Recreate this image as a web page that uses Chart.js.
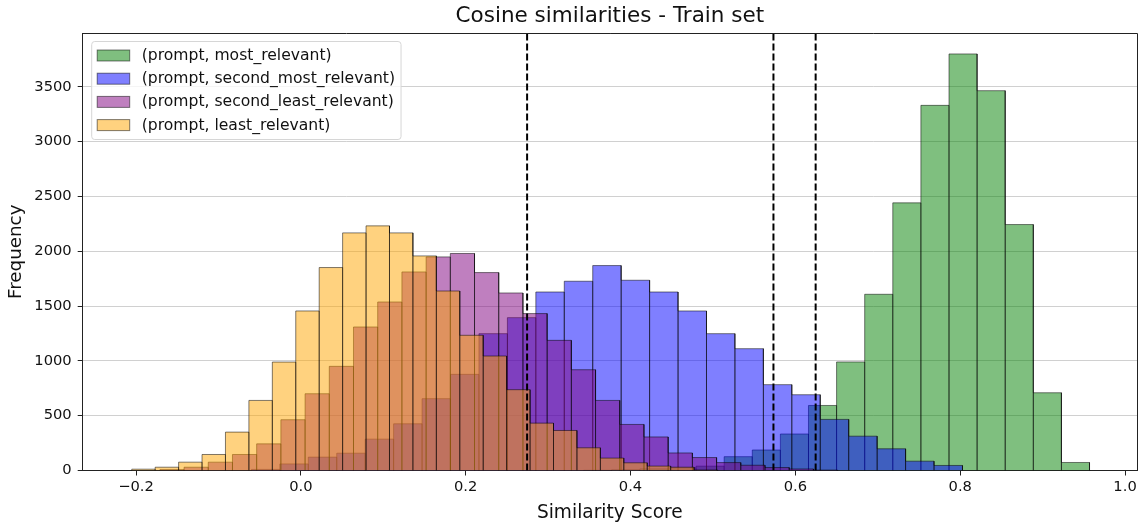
<!DOCTYPE html>
<html>
<head>
<meta charset="utf-8">
<script src="https://cdn.jsdelivr.net/npm/chart.js@4.4.1/dist/chart.umd.min.js"></script>
<style>
html, body { margin: 0; padding: 0; background: #fff; }
#wrap { width: 1141px; height: 525px; }
</style>
</head>
<body>
<div id="wrap"><canvas id="histChart" width="1141" height="525"></canvas></div>
<script>
// labels of the four histograms
const seriesLabels = [
    '(prompt, most_relevant)',
    '(prompt, second_most_relevant)',
    '(prompt, second_least_relevant)',
    '(prompt, least_relevant)'
];

// each histogram: first bin edge, bin width, counts per bin
const mostRelevantStart = 0.3431;
const mostRelevantWidth = 0.0341;
const mostRelevantCounts = [3, 8, 15, 25, 40, 126, 187, 333, 593, 990, 1607, 2441, 3330, 3799, 3464, 2243, 709, 73];

const secondMostStart = -0.0600;
const secondMostWidth = 0.03451;
const secondMostCounts = [10, 60, 122, 158, 286, 426, 655, 877, 1248, 1394, 1628, 1726, 1869, 1735, 1628, 1455, 1248, 1111, 783, 691, 466, 313, 198, 85, 46];

const secondLeastStart = -0.1711;
const secondLeastWidth = 0.02937;
const secondLeastCounts = [8, 30, 76, 146, 243, 463, 700, 950, 1309, 1537, 1811, 1948, 1979, 1805, 1619, 1431, 1187, 919, 639, 420, 306, 160, 118, 72, 48, 27, 14, 4];

const leastStart = -0.2052;
const leastWidth = 0.02843;
const leastCounts = [12, 30, 76, 146, 350, 639, 989, 1455, 1851, 2167, 2231, 2167, 1957, 1637, 1233, 1044, 737, 432, 365, 207, 113, 70, 40, 30, 5];

// dashed vertical threshold lines
const thresholds = [0.2745, 0.5734, 0.6246];

// axes
const xTicks = [-0.2, 0.0, 0.2, 0.4, 0.6, 0.8, 1.0];
const yTicks = [0, 500, 1000, 1500, 2000, 2500, 3000, 3500];
const xMin = -0.2647, xMax = 1.0145;
const yMax = 3990;

const FONT = '"DejaVu Sans", sans-serif';
const TEXT = '#111';

// outline of a histogram as a polyline, so it can be filled down to zero
function histOutline(start, width, counts) {
    const pts = [];
    counts.forEach((c, i) => {
        const a = start + i * width;
        const b = a + width;
        pts.push({ x: a, y: 0 }, { x: a, y: c }, { x: b, y: c }, { x: b, y: 0 });
    });
    return pts;
}

function histDataset(label, start, width, counts, fillColor, order) {
    return {
        label: label,
        data: histOutline(start, width, counts),
        backgroundColor: fillColor,
        borderColor: 'rgba(0, 0, 0, 0.5)',
        borderWidth: 1,
        fill: 'origin',
        pointRadius: 0,
        tension: 0,
        order: order
    };
}

const colors = ['rgba(0, 128, 0, 0.5)', 'rgba(0, 0, 255, 0.5)', 'rgba(128, 0, 128, 0.5)', 'rgba(255, 165, 0, 0.5)'];

const datasets = [
    histDataset(seriesLabels[0], mostRelevantStart, mostRelevantWidth, mostRelevantCounts, colors[0], 4),
    histDataset(seriesLabels[1], secondMostStart, secondMostWidth, secondMostCounts, colors[1], 3),
    histDataset(seriesLabels[2], secondLeastStart, secondLeastWidth, secondLeastCounts, colors[2], 2),
    histDataset(seriesLabels[3], leastStart, leastWidth, leastCounts, colors[3], 1)
];
thresholds.forEach(t => {
    datasets.push({
        label: 'threshold',
        data: [{ x: t, y: 0 }, { x: t, y: yMax }],
        borderColor: '#000',
        borderWidth: 2,
        borderDash: [7, 3],
        fill: false,
        pointRadius: 0,
        order: 0
    });
});

// title, frame and the legend inside the plot
const decorations = {
    id: 'decorations',
    afterDraw(chart) {
        const { ctx, chartArea } = chart;
        ctx.save();
        // top and right spines
        ctx.strokeStyle = '#222';
        ctx.lineWidth = 1;
        ctx.beginPath();
        ctx.moveTo(chartArea.left, chartArea.top + 0.5);
        ctx.lineTo(chartArea.right + 0.5, chartArea.top + 0.5);
        ctx.lineTo(chartArea.right + 0.5, chartArea.bottom);
        ctx.stroke();

        // title
        ctx.fillStyle = TEXT;
        ctx.font = '21.5px ' + FONT;
        ctx.textAlign = 'center';
        ctx.textBaseline = 'middle';
        ctx.fillText('Cosine similarities - Train set', (chartArea.left + chartArea.right) / 2, 16);

        // legend
        ctx.font = '15.6px ' + FONT;
        const textW = Math.max(...seriesLabels.map(t => ctx.measureText(t).width));
        const bx = chartArea.left + 9, by = chartArea.top + 8.5;
        const bw = 50 + textW + 6, bh = 98;
        ctx.fillStyle = 'rgba(255, 255, 255, 0.8)';
        ctx.strokeStyle = '#d6d6d6';
        ctx.beginPath();
        ctx.roundRect(bx, by, bw, bh, 3);
        ctx.fill();
        ctx.stroke();
        seriesLabels.forEach((t, i) => {
            const cy = by + 14 + i * 23.2;
            ctx.fillStyle = colors[i];
            ctx.fillRect(bx + 5.5, cy - 5.5, 32.5, 11);
            ctx.strokeStyle = 'rgba(0, 0, 0, 0.5)';
            ctx.strokeRect(bx + 5.5, cy - 5.5, 32.5, 11);
            ctx.fillStyle = TEXT;
            ctx.textAlign = 'left';
            ctx.fillText(t, bx + 50, cy + 0.5);
        });
        ctx.restore();
    }
};

new Chart(document.getElementById('histChart'), {
    type: 'line',
    data: { datasets: datasets },
    options: {
        responsive: false,
        animation: false,
        layout: { padding: { top: 33, right: 4, left: 0, bottom: 0 } },
        plugins: {
            legend: { display: false },
            title: { display: false },
            tooltip: { enabled: false }
        },
        scales: {
            x: {
                type: 'linear',
                min: xMin,
                max: xMax,
                afterBuildTicks: s => { s.ticks = xTicks.map(v => ({ value: v })); },
                afterFit: s => { s.height = 54.5; },
                grid: { drawOnChartArea: false, drawTicks: true, tickLength: 5, tickColor: '#222' },
                border: { color: '#222', width: 1 },
                ticks: {
                    autoSkip: false,
                    maxRotation: 0,
                    padding: 3,
                    color: TEXT,
                    font: { family: FONT, size: 14.7 },
                    callback: v => v.toFixed(1).replace('-', '\u2212')
                },
                title: {
                    display: true,
                    text: 'Similarity Score',
                    color: TEXT,
                    font: { family: FONT, size: 18.6 },
                    padding: { top: 2, bottom: 1 }
                }
            },
            y: {
                min: 0,
                max: yMax,
                z: 1,
                afterBuildTicks: s => { s.ticks = yTicks.map(v => ({ value: v })); },
                afterFit: s => { s.width = 82.7; },
                grid: { color: 'rgba(176, 176, 176, 0.6)', lineWidth: 1, tickLength: 5, tickColor: '#222' },
                border: { color: '#222', width: 1 },
                ticks: {
                    autoSkip: false,
                    padding: 6,
                    color: TEXT,
                    font: { family: FONT, size: 14.7 },
                    callback: v => String(v)
                },
                title: {
                    display: true,
                    text: 'Frequency',
                    color: TEXT,
                    font: { family: FONT, size: 18.3 },
                    padding: { top: 5, bottom: 4 }
                }
            }
        }
    },
    plugins: [decorations]
});
</script>
</body>
</html>
